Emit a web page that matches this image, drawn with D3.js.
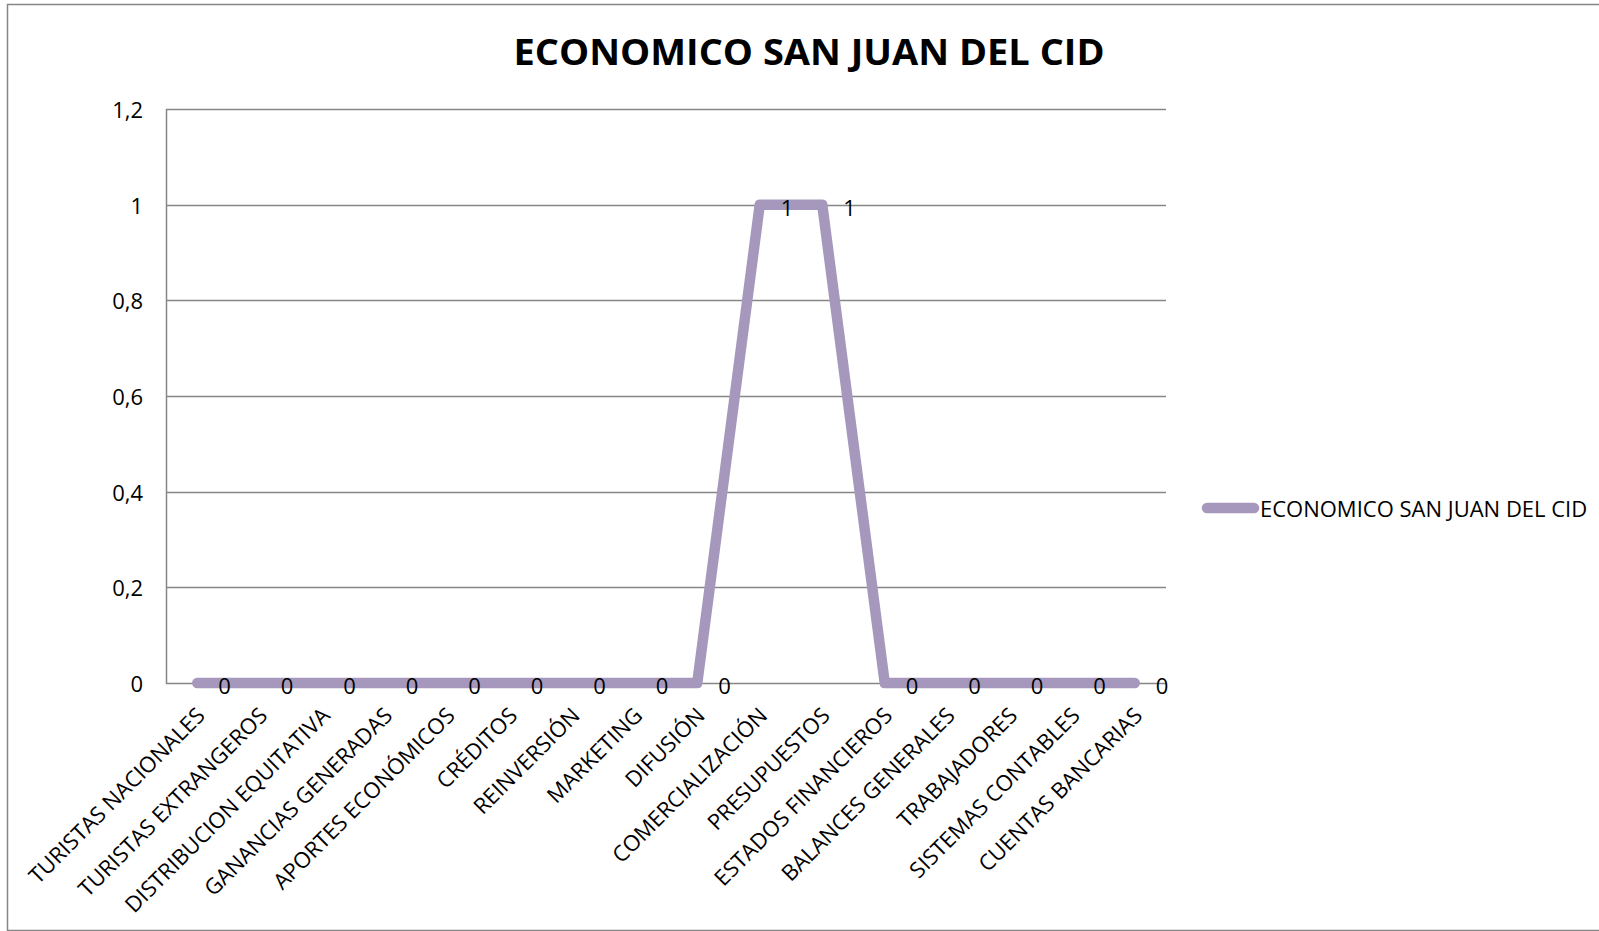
<!DOCTYPE html>
<html>
<head>
<meta charset="utf-8">
<script src="https://cdn.jsdelivr.net/npm/d3@7"></script>
<style>
  html, body { margin: 0; padding: 0; background: #fff; }
  svg { display: block; }
  text { font-family: "Open Sans", sans-serif; fill: #000; }
</style>
</head>
<body>
<svg id="chart" width="1599" height="931"></svg>
<script>
const chartTitle = "ECONOMICO SAN JUAN DEL CID";
const seriesName = "ECONOMICO SAN JUAN DEL CID";
const categories = [
  "TURISTAS NACIONALES", "TURISTAS EXTRANGEROS", "DISTRIBUCION EQUITATIVA",
  "GANANCIAS GENERADAS", "APORTES ECONÓMICOS", "CRÉDITOS", "REINVERSIÓN",
  "MARKETING", "DIFUSIÓN", "COMERCIALIZACIÓN", "PRESUPUESTOS",
  "ESTADOS FINANCIEROS", "BALANCES GENERALES", "TRABAJADORES",
  "SISTEMAS CONTABLES", "CUENTAS BANCARIAS"
];
const values = [0, 0, 0, 0, 0, 0, 0, 0, 0, 1, 1, 0, 0, 0, 0, 0];
const yTicks = [0, 0.2, 0.4, 0.6, 0.8, 1, 1.2];

(function () {
const svg = d3.select("#chart");
const lineColor = "#A598BC";
const gridColor = "#868686";
const fs = "22px";

svg.append("rect")
  .attr("x", 7.5).attr("y", 4.5)
  .attr("width", 1600).attr("height", 926)
  .attr("fill", "none").attr("stroke", gridColor).attr("stroke-width", 1.5);

const pLeft = 166, pRight = 1166, pTop = 109, pBottom = 683;

const x = d3.scalePoint().domain(categories).range([pLeft, pRight]).padding(0.5);
const y = d3.scaleLinear().domain([0, 1.2]).range([pBottom, pTop]);

const fmt = v => String(v).replace(".", ",");

svg.append("g")
  .selectAll("line").data(yTicks).join("line")
  .attr("x1", pLeft).attr("x2", pRight)
  .attr("y1", d => Math.round(y(d)) + 0.5).attr("y2", d => Math.round(y(d)) + 0.5)
  .attr("stroke", gridColor).attr("stroke-width", 1.5);

svg.append("line")
  .attr("x1", pLeft + 0.5).attr("x2", pLeft + 0.5)
  .attr("y1", pTop).attr("y2", pBottom + 1)
  .attr("stroke", gridColor).attr("stroke-width", 1.5);

svg.append("g")
  .selectAll("text").data(yTicks).join("text")
  .attr("x", 143).attr("y", d => y(d))
  .attr("text-anchor", "end")
  .attr("dominant-baseline", "central")
  .style("font-size", fs)
  .text(d => fmt(d));

svg.append("g")
  .selectAll("text").data(categories).join("text")
  .attr("transform", d => `translate(${x(d) + 9},${717}) rotate(-45)`)
  .attr("text-anchor", "end")
  .style("font-size", fs)
  .text(d => d);

const line = d3.line()
  .x((d, i) => x(categories[i]))
  .y(d => y(d));

svg.append("path")
  .datum(values)
  .attr("d", line)
  .attr("fill", "none")
  .attr("stroke", lineColor)
  .attr("stroke-width", 10.5)
  .attr("stroke-linejoin", "round")
  .attr("stroke-linecap", "round");

svg.append("g")
  .selectAll("text").data(values).join("text")
  .attr("x", (d, i) => x(categories[i]) + 21)
  .attr("y", d => y(d) + 2)
  .attr("dominant-baseline", "central")
  .style("font-size", fs)
  .text(d => fmt(d));

const t = svg.append("text")
  .attr("x", 809).attr("y", 65)
  .attr("text-anchor", "middle")
  .style("font-size", "36px")
  .style("font-weight", "bold")
  .text(chartTitle);
const tl = t.node().getComputedTextLength();
if (Math.abs(tl - 591) > 4) {
  t.attr("textLength", 591).attr("lengthAdjust", "spacingAndGlyphs");
}

svg.append("line")
  .attr("x1", 1207).attr("x2", 1254)
  .attr("y1", 508).attr("y2", 508)
  .attr("stroke", lineColor).attr("stroke-width", 10.5)
  .attr("stroke-linecap", "round");
svg.append("text")
  .attr("x", 1260).attr("y", 508)
  .attr("dominant-baseline", "central")
  .style("font-size", fs)
  .text(seriesName);
})();
</script>
</body>
</html>
